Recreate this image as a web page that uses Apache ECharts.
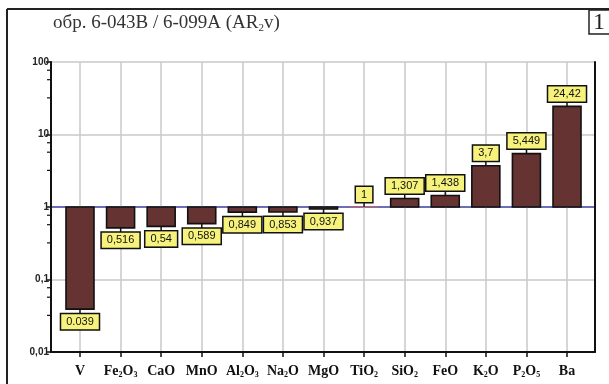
<!DOCTYPE html>
<html>
<head>
<meta charset="utf-8">
<script src="https://cdn.jsdelivr.net/npm/echarts@6/dist/echarts.min.js"></script>
<style>
  html, body { margin: 0; padding: 0; background: #ffffff; }
  #chart { width: 609px; height: 384px; }
</style>
</head>
<body>
<div id="chart"></div>
<script>
// Enrichment ratios of sample 6-043B relative to 6-099A (log scale, baseline 1)
const categories = ['V', 'Fe2O3', 'CaO', 'MnO', 'Al2O3', 'Na2O', 'MgO', 'TiO2', 'SiO2', 'FeO', 'K2O', 'P2O5', 'Ba'];
const ratios = [0.039, 0.516, 0.54, 0.589, 0.849, 0.853, 0.937, 1, 1.307, 1.438, 3.7, 5.449, 24.42];
// Labels printed with a decimal point instead of a comma
const pointDecimalIndices = [0];
const yRange = [0.01, 100];
// Minor tick marks inside each decade
const minorTickSteps = [3.2, 5.7, 7.7];
const decades = [0.01, 0.1, 1, 10];

const BAR_FILL = '#663333';
const INK = '#111111';
const LABEL_BG = '#f6f27c';
const GRID_GREY = '#c9c9c9';
const BASE_BLUE = '#3c3ca0';

function valueText(v, i) {
  const s = String(v);
  return pointDecimalIndices.includes(i) ? s : s.replace('.', ',');
}

// "Fe2O3" -> rich text with subscript digits
function formula(name) {
  return name.replace(/(\d)/g, '{s|$1}');
}

const minorTickData = [];
decades.forEach(d => minorTickSteps.forEach(s => minorTickData.push([0, d * s])));

function renderMinorTick(params, api) {
  const p = api.coord([0, api.value(1)]);
  return {
    type: 'line',
    shape: { x1: p[0] - 4, y1: p[1], x2: p[0], y2: p[1] },
    style: { stroke: INK, lineWidth: 1.2 }
  };
}

function renderBar(params, api) {
  const i = api.value(0);
  const v = api.value(1);
  const end = api.coord([i, v]);
  const base = api.coord([i, 1]);
  const bw = 28;
  const cx = end[0];
  const children = [];
  const h = base[1] - end[1];
  if (Math.abs(h) < 0.5) {
    children.push({
      type: 'line',
      shape: { x1: cx - bw / 2, y1: base[1], x2: cx + bw / 2, y2: base[1] },
      style: { stroke: '#c06a6a', lineWidth: 1.2 }
    });
  } else {
    children.push({
      type: 'rect',
      shape: { x: cx - bw / 2, y: Math.min(end[1], base[1]), width: bw, height: Math.abs(h) },
      style: { fill: BAR_FILL, stroke: INK, lineWidth: 1.6 }
    });
  }
  const up = v >= 1;
  const gap = 5;
  const boxEdge = up ? end[1] - gap : end[1] + gap;
  children.push({
    type: 'line',
    shape: { x1: cx, y1: end[1], x2: cx, y2: boxEdge },
    style: { stroke: INK, lineWidth: 1.4 }
  });
  children.push({
    type: 'text',
    style: {
      text: valueText(v, params.dataIndex),
      x: cx,
      y: boxEdge,
      align: 'center',
      verticalAlign: up ? 'bottom' : 'top',
      fill: INK,
      font: '11px "Liberation Sans", Arial, sans-serif',
      backgroundColor: LABEL_BG,
      borderColor: INK,
      borderWidth: 1.5,
      padding: [2, 5, 2, 5]
    }
  });
  return { type: 'group', children: children };
}

const chart = echarts.init(document.getElementById('chart'), null, { renderer: 'canvas' });

const option = {
  backgroundColor: '#ffffff',
  animation: false,
  grid: [
    { left: 51, right: 14, top: 62, bottom: 32 },
    { left: 59.7, right: 21.7, top: 62, bottom: 32 }
  ],
  xAxis: [
    {
      gridIndex: 0, type: 'value', min: 0, max: 1,
      axisLine: { show: true, onZero: false, lineStyle: { color: INK, width: 2 } },
      axisTick: { show: false }, axisLabel: { show: false }, splitLine: { show: false }
    },
    {
      gridIndex: 1, type: 'category', data: categories,
      axisLine: { show: false },
      axisTick: { show: true, interval: 0, alignWithLabel: true, length: 5, lineStyle: { color: INK, width: 1.5 } },
      axisLabel: {
        interval: 0,
        hideOverlap: false,
        margin: 11,
        formatter: formula,
        color: INK,
        fontFamily: '"Liberation Serif", "Times New Roman", serif',
        fontWeight: 'bold',
        fontSize: 14,
        lineHeight: 16,
        rich: {
          s: {
            fontFamily: '"Liberation Serif", "Times New Roman", serif',
            fontWeight: 'bold',
            fontSize: 8,
            lineHeight: 8,
            verticalAlign: 'bottom',
            color: INK
          }
        }
      },
      splitLine: { show: true, interval: 0, alignWithLabel: true, lineStyle: { color: GRID_GREY, width: 1.5 } }
    }
  ],
  yAxis: [
    {
      gridIndex: 0, type: 'log', logBase: 10, min: yRange[0], max: yRange[1],
      axisLine: { show: true, lineStyle: { color: INK, width: 2 } },
      axisTick: { show: true, length: 5, lineStyle: { color: INK, width: 1.5 } },
      axisLabel: {
        margin: 2,
        color: '#222222',
        fontFamily: '"Liberation Sans", Arial, sans-serif',
        fontSize: 10,
        fontWeight: 'bold',
        formatter: v => String(Number(v.toPrecision(6))).replace('.', ',')
      },
      splitLine: {
        show: true,
        lineStyle: { color: [GRID_GREY, GRID_GREY, BASE_BLUE, GRID_GREY, GRID_GREY], width: 1.6 }
      }
    },
    {
      gridIndex: 0, type: 'log', logBase: 10, min: yRange[0], max: yRange[1], position: 'right',
      axisLine: { show: true, lineStyle: { color: INK, width: 2 } },
      axisTick: { show: false }, axisLabel: { show: false }, splitLine: { show: false }
    },
    {
      gridIndex: 1, type: 'log', logBase: 10, min: yRange[0], max: yRange[1], show: false
    }
  ],
  series: [
    {
      type: 'custom', xAxisIndex: 0, yAxisIndex: 0,
      renderItem: renderMinorTick, data: minorTickData, silent: true, clip: false
    },
    {
      type: 'custom', xAxisIndex: 1, yAxisIndex: 2, z: 5,
      renderItem: renderBar,
      data: ratios.map((v, i) => [i, v]),
      clip: false
    }
  ],
  graphic: [
    { type: 'line', shape: { x1: 7, y1: 9, x2: 609, y2: 9 }, style: { stroke: '#222', lineWidth: 2 } },
    { type: 'line', shape: { x1: 7, y1: 9, x2: 7, y2: 384 }, style: { stroke: '#222', lineWidth: 2 } },
    { type: 'rect', shape: { x: 589, y: 10, width: 30, height: 24 }, style: { fill: '#fff', stroke: '#222', lineWidth: 1.5 } },
    {
      type: 'text', left: 593, top: 11,
      style: { text: '1', fill: '#222', font: '24px "Liberation Serif", serif' }
    },
    {
      type: 'text', left: 53, top: 13,
      style: {
        text: 'обр. 6-043В / 6-099А (AR{s|2}v)',
        fill: '#333',
        font: '19px "Liberation Serif", "Times New Roman", serif',
        lineHeight: 21,
        rich: {
          s: { font: '11px "Liberation Serif", serif', fill: '#333', lineHeight: 11, verticalAlign: 'bottom' }
        }
      }
    }
  ]
};

chart.setOption(option);
</script>
</body>
</html>
